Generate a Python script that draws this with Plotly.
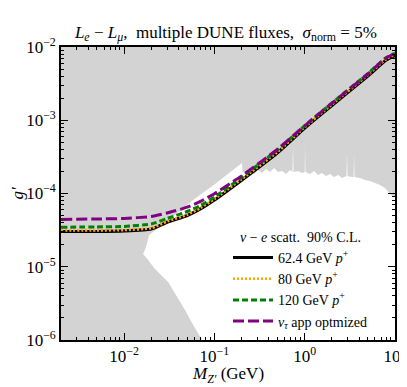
import plotly.graph_objects as go

# Z' mass grid (GeV) for the sensitivity curves
mass = [0.002, 0.005, 0.01, 0.02, 0.03, 0.05, 0.07, 0.1, 0.2, 0.5, 1, 2, 5, 8, 10]

# 90% C.L. reach on g' for each DUNE flux
g_624 = [3.03e-5, 3.03e-5, 3.08e-5, 3.27e-5, 4.05e-5, 5.0e-5, 6.15e-5, 8.15e-5,
         1.52e-4, 3.6e-4, 7.83e-4, 1.59e-3, 4.02e-3, 6.65e-3, 7.65e-3]
g_80 = [3.13e-5, 3.13e-5, 3.17e-5, 3.36e-5, 4.15e-5, 5.12e-5, 6.33e-5, 8.4e-5,
        1.57e-4, 3.7e-4, 8.05e-4, 1.64e-3, 4.14e-3, 6.85e-3, 7.88e-3]
g_120 = [3.46e-5, 3.5e-5, 3.55e-5, 3.84e-5, 4.56e-5, 5.68e-5, 6.85e-5, 8.95e-5,
         1.66e-4, 3.95e-4, 8.45e-4, 1.72e-3, 4.34e-3, 7.18e-3, 8.26e-3]
g_tau = [4.42e-5, 4.49e-5, 4.56e-5, 4.86e-5, 5.42e-5, 6.5e-5, 7.8e-5, 9.93e-5,
         1.74e-4, 4.02e-4, 8.4e-4, 1.71e-3, 4.28e-3, 7.1e-3, 8.15e-3]

# boundary of the still-allowed (white) region, the rest is excluded (grey)
allowed_m = [0.073, 0.0581, 0.0473, 0.0377, 0.0307, 0.025, 0.0215, 0.0185, 0.0162,
             0.0175, 0.0185, 0.0189, 0.0323, 0.0581, 0.1016, 0.157, 0.202, 0.205,
             0.224, 0.248, 0.275, 0.304, 0.337, 0.373, 0.413, 0.458, 0.507, 0.561,
             0.621, 0.688, 0.732, 0.743, 0.752, 0.843, 0.935, 1.0, 1.009, 1.018, 1.146,
             1.268, 1.405, 1.556, 1.723, 1.908, 2.113, 2.34, 2.591, 2.9, 2.94, 2.98,
             3.34, 3.48, 3.52, 3.56, 4.1, 4.66, 5.29, 6.01, 6.82, 7.75, 8.59, 9.27, 10.5,
             10.5, 0.073]
allowed_g = [1e-6, 1.6e-6, 2.57e-6, 4.12e-6, 6.19e-6, 7.96e-6, 9.61e-6, 1.24e-5, 1.49e-5,
             1.86e-5, 2.32e-5, 2.71e-5, 4.49e-5, 8.15e-5, 1.35e-4, 2.03e-4, 2.61e-4, 1.97e-4,
             1.91e-4, 2.03e-4, 1.85e-4, 2.09e-4, 1.91e-4, 2.16e-4, 1.97e-4, 2.23e-4, 1.97e-4,
             2.03e-4, 1.85e-4, 2.09e-4, 1.97e-4, 4.45e-4, 1.97e-4, 2.03e-4, 1.91e-4, 1.97e-4,
             4.89e-4, 1.97e-4, 1.85e-4, 2.03e-4, 1.79e-4, 1.91e-4, 1.73e-4, 1.85e-4, 1.68e-4,
             1.79e-4, 1.63e-4, 1.73e-4, 3.57e-4, 1.73e-4, 1.68e-4, 1.68e-4, 3.57e-4, 1.68e-4,
             1.63e-4, 1.53e-4, 1.48e-4, 1.39e-4, 1.31e-4, 1.19e-4, 1.02e-4, 9.25e-5, 9.25e-5,
             9e-7, 9e-7]

x_ticks = [1e-2, 1e-1, 1, 10]
x_labels = ["10<sup>−2</sup>", "10<sup>−1</sup>", "10<sup>0</sup>", "10<sup>1</sup>"]
y_ticks = [1e-6, 1e-5, 1e-4, 1e-3, 1e-2]
y_labels = ["10<sup>−6</sup>", "10<sup>−5</sup>", "10<sup>−4</sup>", "10<sup>−3</sup>", "10<sup>−2</sup>"]

FONT = "Liberation Serif"


def minor_ticks(lo, hi):
    return [k * 10.0 ** e for e in range(lo, hi) for k in range(2, 10)]


fig = go.Figure()

fig.add_trace(go.Scatter(
    x=allowed_m, y=allowed_g, mode="lines", fill="toself",
    fillcolor="white", line=dict(width=0), showlegend=False, hoverinfo="skip"
))

curves = [
    (g_624, "62.4 GeV <i>p</i><sup>+</sup>", "black", "solid", 3.2),
    (g_80, "80 GeV <i>p</i><sup>+</sup>", "orange", "2px,2px", 2.6),
    (g_120, "120 GeV <i>p</i><sup>+</sup>", "green", "6px,3px", 3),
    (g_tau, "<i>ν<sub>τ</sub></i> app optmized", "purple", "11px,4px", 3),
]
for g, name, color, dash, w in curves:
    fig.add_trace(go.Scatter(
        x=mass, y=g, mode="lines", name=name,
        line=dict(color=color, dash=dash, width=w, shape="spline", smoothing=0.5)
    ))

axis_common = dict(
    showline=True, linecolor="black", linewidth=1.6, mirror="allticks",
    ticks="inside", ticklen=7, tickwidth=1, tickcolor="black",
    showgrid=False, zeroline=False, automargin=False,
    tickfont=dict(family=FONT, size=17, color="black"),
)

fig.update_xaxes(
    type="log", range=[-2.699, 1], tickvals=x_ticks, ticktext=x_labels,
    minor=dict(ticks="inside", ticklen=3.5, tickwidth=0.8, tickcolor="black",
               tickvals=minor_ticks(-3, 1)),
    **axis_common
)
fig.update_yaxes(
    type="log", range=[-6, -2], tickvals=y_ticks, ticktext=y_labels,
    minor=dict(ticks="inside", ticklen=3.5, tickwidth=0.8, tickcolor="black",
               tickvals=minor_ticks(-6, -2)),
    title=dict(text="<i>g′</i>", font=dict(family=FONT, size=17, color="black"), standoff=4),
    **axis_common
)

fig.add_annotation(
    text="<i>M<sub>Z′</sub></i> (GeV)", xref="paper", yref="paper",
    x=0.5, y=-0.12, xanchor="center", yanchor="middle", showarrow=False,
    font=dict(family=FONT, size=17, color="black"),
)

# the page adds an 8px body margin, so the figure is 8px smaller than the window
fig.update_layout(
    width=399, height=379,
    margin=dict(l=53, r=12, t=39, b=47),
    plot_bgcolor="#d3d3d3", paper_bgcolor="white",
    font=dict(family=FONT, size=14, color="black"),
    title=dict(
        text="<i>L<sub>e</sub></i> − <i>L<sub>μ</sub></i>,  multiple DUNE fluxes,  <i>σ</i><sub>norm</sub> = 5%",
        x=0.546, xanchor="center", y=0.937, yanchor="middle",
        font=dict(family=FONT, size=17, color="black"),
    ),
    legend=dict(
        title=dict(text="<i>ν</i> − <i>e</i> scatt.  90% C.L.", side="top center",
                   font=dict(family=FONT, size=14)),
        x=0.5, xanchor="left", y=0.397, yanchor="top",
        bgcolor="rgba(0,0,0,0)", font=dict(family=FONT, size=14),
        tracegroupgap=0, itemwidth=40,
    ),
)

fig.write_html("out.html")
